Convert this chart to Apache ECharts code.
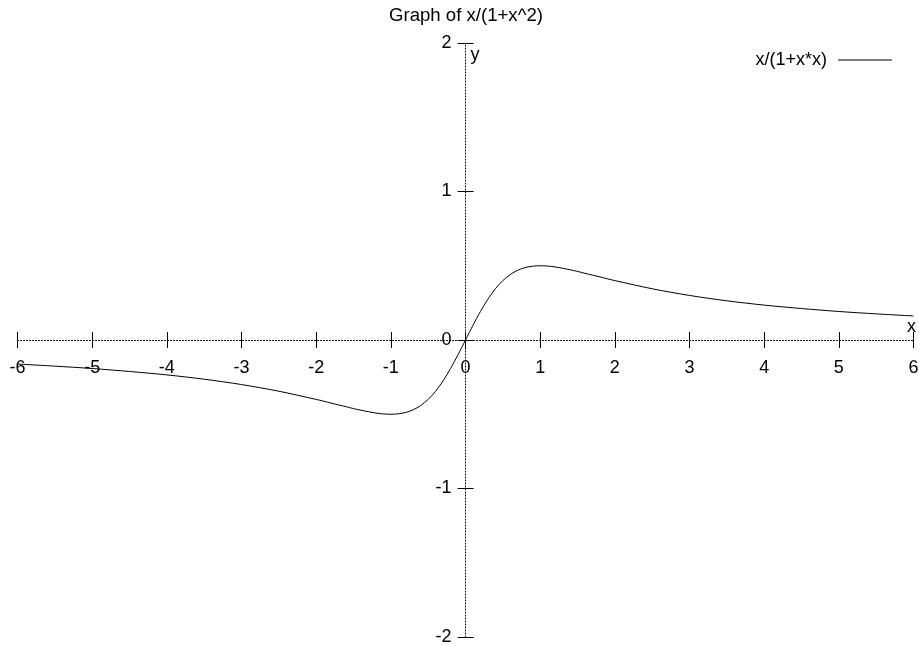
<!DOCTYPE html>
<html>
<head>
<meta charset="utf-8">
<script src="https://cdn.jsdelivr.net/npm/echarts@6/dist/echarts.min.js"></script>
<style>html,body{margin:0;padding:0;background:#fff;}#c{width:919px;height:646px;}</style>
</head>
<body>
<div id="c"></div>
<script>
var titleText = 'Graph of x/(1+x^2)';
var seriesName = 'x/(1+x*x)';
var xTicks = [-6, -5, -4, -3, -2, -1, 0, 1, 2, 3, 4, 5, 6];
var yTicks = [-2, -1, 0, 1, 2];
var xs = [-6, -5.5, -5, -4.5, -4, -3.5, -3, -2.5, -2, -1.9, -1.8, -1.7, -1.6, -1.5, -1.4, -1.3, -1.2, -1.1, -1.0, -0.9, -0.8, -0.7, -0.6, -0.5, -0.4, -0.3, -0.2, -0.1, 0,
  0.1, 0.2, 0.3, 0.4, 0.5, 0.6, 0.7, 0.8, 0.9, 1.0, 1.1, 1.2, 1.3, 1.4, 1.5, 1.6, 1.7, 1.8, 1.9, 2, 2.5, 3, 3.5, 4, 4.5, 5, 5.5, 6];
var ys = [-0.162, -0.176, -0.192, -0.212, -0.235, -0.264, -0.300, -0.345, -0.400, -0.412, -0.425, -0.437, -0.449, -0.462, -0.473, -0.483, -0.492, -0.498, -0.500, -0.497, -0.488, -0.470, -0.441, -0.400, -0.345, -0.275, -0.192, -0.099, 0,
  0.099, 0.192, 0.275, 0.345, 0.400, 0.441, 0.470, 0.488, 0.497, 0.500, 0.498, 0.492, 0.483, 0.473, 0.462, 0.449, 0.437, 0.425, 0.412, 0.400, 0.345, 0.300, 0.264, 0.235, 0.212, 0.192, 0.176, 0.162];

var font = 'Liberation Sans, Arial, Helvetica, sans-serif';
var fs = 18;
var pts = xs.map(function (x, i) { return [x, ys[i]]; });
var xMin = xTicks[0], xMax = xTicks[xTicks.length - 1];
var yMin = yTicks[0], yMax = yTicks[yTicks.length - 1];

var axisLineStyle = { color: '#000', type: [1, 2], width: 1 };
var tickStyle = { color: '#000', width: 1 };
function xAxisDef(gridIndex, inside, main, name) {
  return {
    gridIndex: gridIndex,
    type: 'value', min: xMin, max: xMax, interval: 1, position: 'bottom', offset: 0,
    axisLine: { show: main, onZero: false, lineStyle: axisLineStyle },
    axisTick: { show: true, inside: inside, length: 8, lineStyle: tickStyle },
    axisLabel: { show: main, margin: 19, color: '#000', fontSize: fs, fontFamily: font, showMinLabel: true, showMaxLabel: true, hideOverlap: false },
    splitLine: { show: false },
    name: name, nameLocation: 'end', nameGap: -2,
    nameTextStyle: { color: '#000', fontSize: fs, fontFamily: font, align: 'center', verticalAlign: 'bottom', padding: [0, 0, 4, 0] }
  };
}
function yAxisDef(gridIndex, inside, main, name) {
  return {
    gridIndex: gridIndex,
    type: 'value', min: yMin, max: yMax, interval: 1, position: 'left', offset: 0,
    axisLine: { show: main, onZero: false, lineStyle: axisLineStyle },
    axisTick: { show: true, inside: inside, length: 8, lineStyle: tickStyle },
    axisLabel: { show: main, margin: 14, color: '#000', fontSize: fs, fontFamily: font, showMinLabel: true, showMaxLabel: true, hideOverlap: false },
    splitLine: { show: false },
    name: name, nameLocation: 'end', nameGap: -3,
    nameTextStyle: { color: '#000', fontSize: fs, fontFamily: font, align: 'left', verticalAlign: 'top', padding: [0, 0, 0, 5] }
  };
}
var gridBox = { left: 17.5, right: 5.5, top: 43, bottom: 9, containLabel: false, outerBoundsMode: 'none' };

var chart = echarts.init(document.getElementById('c'), null, { renderer: 'canvas' });
chart.setOption({
  backgroundColor: '#fff',
  animation: false,
  title: { text: titleText, left: 384, top: 1, textStyle: { color: '#000', fontSize: 18.6, fontWeight: 'normal', fontFamily: font } },
  legend: {
    data: [seriesName], right: 27, top: 51, padding: 0, align: 'right', icon: 'rect', itemWidth: 54, itemHeight: 1, itemGap: 0,
    itemStyle: { color: '#000' },
    textStyle: { color: '#000', fontSize: fs, fontFamily: font, padding: [0, 6, 0, 0] }
  },
  grid: [Object.assign({}, gridBox), Object.assign({}, gridBox)],
  xAxis: [xAxisDef(0, false, true, 'x'), xAxisDef(1, true, false, '')],
  yAxis: [yAxisDef(0, false, true, 'y'), yAxisDef(1, true, false, '')],
  series: [{
    name: seriesName, type: 'line', data: pts, xAxisIndex: 0, yAxisIndex: 0,
    symbol: 'none', smooth: 0.3, lineStyle: { color: '#000', width: 1 }, itemStyle: { color: '#000' }
  }]
});

// Move the axes onto the zero lines (axes cross at the origin)
var corner = chart.convertToPixel({ gridIndex: 0 }, [xMin, yMin]);
var origin = chart.convertToPixel({ gridIndex: 0 }, [0, 0]);
var dy = origin[1] - corner[1];
var dx = corner[0] - origin[0];
chart.setOption({
  xAxis: [{ offset: dy }, { offset: dy }],
  yAxis: [{ offset: dx }, { offset: dx }]
});
</script>
</body>
</html>
